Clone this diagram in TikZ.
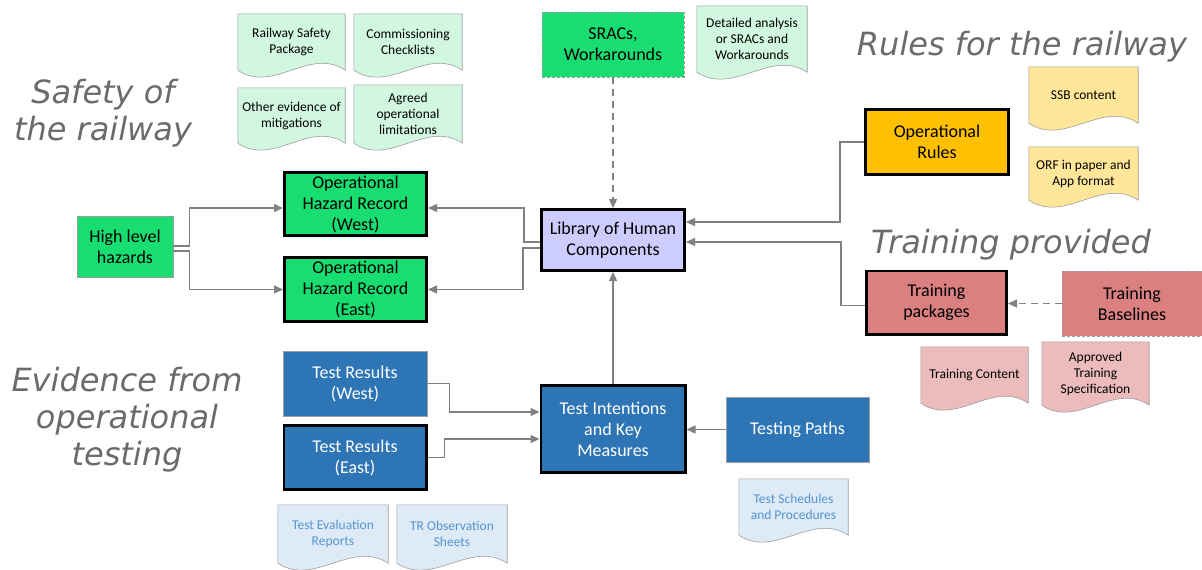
\documentclass[tikz,border=0pt]{standalone}
\usepackage{fontspec}
\setmainfont{Carlito}
\newfontfamily\headfont{DejaVu Sans}
\usetikzlibrary{arrows.meta, backgrounds, calc}
\definecolor{hazgreen}{RGB}{24,222,114}
\definecolor{docgreen}{RGB}{210,247,225}
\definecolor{ruleamber}{RGB}{255,192,0}
\definecolor{docamber}{RGB}{255,230,153}
\definecolor{trainrose}{RGB}{218,128,128}
\definecolor{docrose}{RGB}{236,188,188}
\definecolor{testblue}{RGB}{46,117,182}
\definecolor{docblue}{RGB}{222,235,247}
\definecolor{docbluetext}{RGB}{84,148,208}
\definecolor{libviolet}{RGB}{204,204,255}
\definecolor{wiregray}{gray}{0.5}
\definecolor{headgray}{gray}{0.42}
\definecolor{docedge}{gray}{0.62}

\begin{document}
\begin{tikzpicture}[
  x=1pt, y=-1pt,
  box/.style={rectangle, align=center, inner sep=0pt,
              font=\fontsize{18}{21}\selectfont},
  plainbox/.style={box, draw=docedge, line width=.6pt},
  dashbox/.style={box, draw=docedge, line width=.6pt, dash pattern=on 3pt off 2pt},
  keybox/.style={box, draw=black, line width=2.6pt},
  doc/.style={rectangle, align=center, inner sep=0pt, minimum width=108pt,
              minimum height=56pt, font=\fontsize{13.5}{16}\selectfont},
  heading/.style={align=center, text=headgray,
                  font=\headfont\itshape\fontsize{32}{37}\selectfont},
  wire/.style={draw=wiregray, line width=1.3pt,
               -{Triangle[length=9pt, width=8pt]}},
  dashwire/.style={wire, dash pattern=on 7pt off 5pt},
]
\useasboundingbox (0,0) rectangle (1202,570);

\node[heading] (tsafety) at (103,113) {Safety of\\the railway};
\node[heading] (trules) at (1022,47) {Rules for the railway};
\node[heading] (ttrain) at (1011,245) {Training provided};
\node[heading] (tevid) at (127,420) {Evidence from\\operational\\testing};

% documents
\node[doc, minimum width=107pt] (rsp) at (291.5,42) {Railway Safety\\Package};
\node[doc] (ccl) at (408,42) {Commissioning\\Checklists};
\node[doc, minimum width=107pt, minimum height=55pt] (oem) at (291.5,115.5)
  {Other evidence of\\mitigations};
\node[doc, minimum height=58pt] (aol) at (408,114) {Agreed\\operational\\limitations};
\node[doc, minimum width=110pt, minimum height=66pt] (dsw) at (752,39)
  {Detailed analysis\\or SRACs and\\Workarounds};
\node[doc, minimum width=109pt] (ssb) at (1083.5,95) {SSB content};
\node[doc, minimum width=109pt, minimum height=53pt] (orf) at (1083.5,173.5)
  {ORF in paper and\\App format};
\node[doc, minimum width=107pt] (tco) at (974.5,375) {Training Content};
\node[doc, minimum width=107pt, minimum height=63pt] (ats) at (1095.5,373.5)
  {Approved\\Training\\Specification};
\node[doc, minimum width=110pt, minimum height=58pt, text=docbluetext] (ter) at (333,534)
  {Test Evaluation\\Reports};
\node[doc, minimum width=110pt, minimum height=58pt, text=docbluetext] (tro) at (452,534)
  {TR Observation\\Sheets};
\node[doc, minimum width=109pt, text=docbluetext] (tsp) at (793.5,507)
  {Test Schedules\\and Procedures};

\begin{scope}[on background layer]
\foreach \n/\c in {rsp/docgreen, ccl/docgreen, oem/docgreen, aol/docgreen,
                   dsw/docgreen, ssb/docamber, orf/docamber, tco/docrose,
                   ats/docrose, ter/docblue, tro/docblue, tsp/docblue}
  \filldraw[fill=\c, draw=docedge, line width=.6pt]
    (\n.north west) -- (\n.north east) -- (\n.south east)
    .. controls ($(\n.south east)!.33!(\n.south west)+(0,-24)$)
            and ($(\n.south east)!.67!(\n.south west)+(0,24)$) .. (\n.south west)
    -- cycle;
\end{scope}

% main boxes
\node[dashbox, fill=hazgreen, minimum width=142pt, minimum height=65pt] (srac)
  at (613,44.5) {SRACs,\\Workarounds};
\node[plainbox, fill=hazgreen, minimum width=96pt, minimum height=61pt] (hlh)
  at (125,246.5) {High level\\hazards};
\node[keybox, fill=hazgreen, minimum width=142.4pt, minimum height=63.4pt] (ohw)
  at (355.5,204) {Operational\\Hazard Record\\(West)};
\node[keybox, fill=hazgreen, minimum width=142.4pt, minimum height=64.4pt] (ohe)
  at (355.5,289.5) {Operational\\Hazard Record\\(East)};
\node[keybox, fill=libviolet, minimum width=143.4pt, minimum height=61.4pt] (lhc)
  at (613,240) {Library of Human\\Components};
\node[keybox, fill=ruleamber, minimum width=143.4pt, minimum height=65.4pt] (opr)
  at (937,142) {Operational\\Rules};
\node[keybox, fill=trainrose, minimum width=140.4pt, minimum height=63.4pt] (tpk)
  at (936.5,302.5) {Training\\packages};
\node[dashbox, fill=trainrose, minimum width=140pt, minimum height=65pt] (tbl)
  at (1132,303.5) {Training\\Baselines};
\node[plainbox, fill=testblue, text=white, minimum width=144pt, minimum height=65pt] (trw)
  at (355,383.5) {Test Results\\(West)};
\node[keybox, fill=testblue, text=white, minimum width=142.4pt, minimum height=64.4pt] (tre)
  at (355,457.5) {Test Results\\(East)};
\node[keybox, fill=testblue, text=white, minimum width=144.4pt, minimum height=87.4pt] (tik)
  at (613,429) {Test Intentions\\and Key\\Measures};
\node[plainbox, fill=testblue, text=white, minimum width=143pt, minimum height=65pt] (tpa)
  at (797.5,429.5) {Testing Paths};

% connectors
\draw[wire] ([yshift=.5pt]hlh.east) -- ++(16,0) |- ([yshift=-4pt]ohw.west);
\draw[wire] ([yshift=-4.5pt]hlh.east) -- ++(16,0) |- (ohe.west);
\draw[wire] ([yshift=-2pt]lhc.west) -- ++(-16,0) |- ([yshift=-4pt]ohw.east);
\draw[wire] ([yshift=-8pt]lhc.west) -- ++(-17,0) |- (ohe.east);
\draw[dashwire] (srac.south) -- (lhc.north);
\draw[wire] (opr.west) -- ++(-24,0) |- ([yshift=18pt]lhc.east);
\draw[wire] ([yshift=-3pt]tpk.west) -- ++(-24,0) |- ([yshift=-2pt]lhc.east);
\draw[dashwire] (tbl.west) -- (tbl.west -| tpk.east);
\draw[wire] (tik.north) -- (lhc.south);
\draw[wire] (trw.east) -- ++(22,0) |- ([yshift=17pt]tik.west);
\draw[wire] (tre.east) -- ++(17,0) |- ([yshift=-10pt]tik.west);
\draw[wire] (tpa.west) -- (tpa.west -| tik.east);
\end{tikzpicture}
\end{document}
